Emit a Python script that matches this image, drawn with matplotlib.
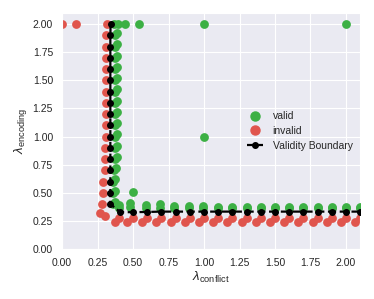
import matplotlib
matplotlib.use("Agg")
import matplotlib.pyplot as plt
import seaborn as sns
from matplotlib.lines import Line2D

sns.set_style("darkgrid")
plt.rcParams['font.family'] = ['Liberation Sans', 'DejaVu Sans']
plt.rcParams['mathtext.fontset'] = 'custom'
plt.rcParams['mathtext.rm'] = 'Liberation Sans'
plt.rcParams['mathtext.it'] = 'Liberation Sans:italic'

# ---- data ----
# vertical branch (rows of lambda_encoding)
vert_y = [2.0, 1.9, 1.8, 1.7, 1.6, 1.5, 1.4, 1.3, 1.2, 1.1, 1.0, 0.9, 0.8, 0.7, 0.6, 0.5, 0.4]
vert_red_x = [0.315, 0.31, 0.31, 0.31, 0.31, 0.31, 0.31, 0.31, 0.31, 0.31, 0.31, 0.305, 0.30, 0.30, 0.29, 0.285, 0.28]
vert_green_x1 = [0.368, 0.37, 0.37, 0.37, 0.37, 0.37, 0.37, 0.37, 0.37, 0.37, 0.37, 0.37, 0.37, 0.365, 0.36, 0.357, 0.357]
vert_green_x2 = [0.392, 0.39, 0.39, 0.39, 0.39, 0.39, 0.39, 0.39, 0.39, 0.39, 0.39, 0.39, 0.385, 0.38, 0.375, 0.37, 0.37]
vert_green_y2 = [2.0, 1.92, 1.82, 1.72, 1.62, 1.52, 1.42, 1.32, 1.22, 1.12, 1.02, 0.92, 0.82, 0.72, 0.62, 0.52, 0.42]
vert_bound_x = [0.342, 0.34, 0.34, 0.34, 0.34, 0.34, 0.34, 0.34, 0.34, 0.34, 0.34, 0.34, 0.34, 0.34, 0.34, 0.34, 0.34]

# horizontal branch (columns of lambda_conflict)
horiz_x = [0.41, 0.50, 0.60, 0.70, 0.80, 0.90, 1.00, 1.10, 1.20, 1.30, 1.40, 1.50, 1.60, 1.70, 1.80, 1.90, 2.00, 2.10]
horiz_bound_y = [0.328, 0.328, 0.33, 0.333, 0.333, 0.333, 0.333, 0.333, 0.333, 0.333, 0.333, 0.333, 0.333, 0.333, 0.333, 0.333, 0.333, 0.333]
horiz_green_x = [0.40, 0.48, 0.59, 0.69, 0.79, 0.895, 0.995, 1.10, 1.20, 1.30, 1.40, 1.50, 1.60, 1.70, 1.80, 1.90, 2.00, 2.10]
horiz_green_y1 = [0.365, 0.37, 0.365, 0.365, 0.365, 0.365, 0.365, 0.362, 0.362, 0.362, 0.362, 0.362, 0.362, 0.362, 0.362, 0.362, 0.362, 0.362]
horiz_green_y2 = [0.39, 0.41, 0.39, 0.40, 0.385, 0.385, 0.38, 0.375, 0.372, 0.372, 0.37, 0.37, 0.37, 0.37, 0.37, 0.37, 0.37, 0.37]
horiz_red_x1 = [0.40, 0.50, 0.60, 0.70, 0.80, 0.90, 1.00, 1.10, 1.20, 1.30, 1.40, 1.50, 1.60, 1.70, 1.80, 1.90, 2.00, 2.10]
horiz_red_y1 = [0.28, 0.28, 0.28, 0.28, 0.28, 0.28, 0.28, 0.28, 0.28, 0.28, 0.28, 0.28, 0.28, 0.28, 0.28, 0.28, 0.28, 0.28]
horiz_red_x2 = [0.37, 0.46, 0.565, 0.665, 0.765, 0.865, 0.965, 1.065, 1.165, 1.265, 1.365, 1.465, 1.565, 1.665, 1.765, 1.865, 1.965, 2.065]
horiz_red_y2 = [0.24, 0.245, 0.24, 0.24, 0.24, 0.24, 0.24, 0.24, 0.24, 0.24, 0.24, 0.24, 0.24, 0.24, 0.24, 0.24, 0.24, 0.24]

# isolated points
extra_valid_x = [0.444, 0.545, 1.0, 2.0, 1.0, 0.50]
extra_valid_y = [2.0, 2.0, 2.0, 2.0, 1.0, 0.505]
extra_invalid_x = [0.0, 0.1, 0.268, 0.30]
extra_invalid_y = [2.0, 2.0, 0.32, 0.29]

xticks = [0.0, 0.25, 0.5, 0.75, 1.0, 1.25, 1.5, 1.75, 2.0]
yticks = [0.0, 0.25, 0.5, 0.75, 1.0, 1.25, 1.5, 1.75, 2.0]

GREEN = '#3cb044'
RED = '#e0554d'

fig = plt.figure(figsize=(3.74, 2.99), dpi=100)
ax = fig.add_axes([0.166, 0.167, 0.797, 0.79])

valid_x = vert_green_x1 + vert_green_x2 + horiz_green_x + horiz_green_x + extra_valid_x
valid_y = vert_y + vert_green_y2 + horiz_green_y1 + horiz_green_y2 + extra_valid_y
invalid_x = vert_red_x + horiz_red_x1 + horiz_red_x2 + extra_invalid_x
invalid_y = vert_y + horiz_red_y1 + horiz_red_y2 + extra_invalid_y
bound_x = vert_bound_x + horiz_x
bound_y = vert_y + horiz_bound_y

ax.scatter(invalid_x, invalid_y, s=40, color=RED, linewidths=0, zorder=2)
ax.scatter(valid_x, valid_y, s=40, color=GREEN, linewidths=0, zorder=3)
ax.plot(bound_x, bound_y, color='black', ls='--', lw=1.6, marker='o', ms=4.0, zorder=4)

ax.set_xlim(0, 2.1)
ax.set_ylim(0, 2.1)
ax.set_xticks(xticks)
ax.set_yticks(yticks)
ax.set_xticklabels([f"{t:.2f}" for t in xticks])
ax.set_yticklabels([f"{t:.2f}" for t in yticks])
ax.tick_params(labelsize=7.5, colors='#262626', pad=3)
ax.set_xlabel(r'$\lambda_{\mathrm{conflict}}$', fontsize=9.5, color='#262626', labelpad=1)
ax.set_ylabel(r'$\lambda_{\mathrm{encoding}}$', fontsize=9.5, color='#262626', labelpad=3)

handles = [
    Line2D([], [], ls='none', marker='o', ms=6.5, color=GREEN, label='valid'),
    Line2D([], [], ls='none', marker='o', ms=6.5, color=RED, label='invalid'),
    Line2D([], [], ls=(0, (3, 2)), lw=1.6, marker='o', ms=4.0, color='black', label='Validity Boundary'),
]
ax.legend(handles=handles, loc='center', bbox_to_anchor=(0.797, 0.5), frameon=False,
          fontsize=7.5, handlelength=1.6, handletextpad=0.9, labelspacing=0.45, borderpad=0.2)

fig.savefig('out.png', dpi=100)
